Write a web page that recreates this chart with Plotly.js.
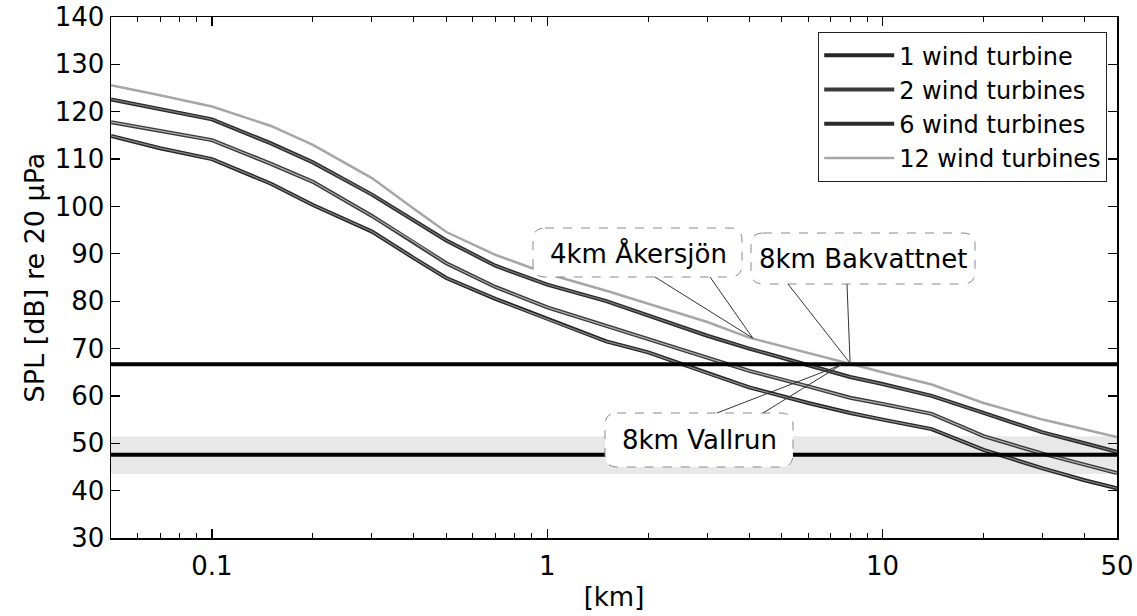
<!DOCTYPE html>
<html>
<head>
<meta charset="utf-8">
<script src="https://cdn.plot.ly/plotly-3.0.1.min.js"></script>
<style>html,body{margin:0;padding:0;background:#fff;}#chart{width:1137px;height:616px;}</style>
</head>
<body>
<div id="chart"></div>
<script>
// ---- data ----
const distanceKm = [0.05, 0.07, 0.1, 0.15, 0.2, 0.3, 0.4, 0.5, 0.7, 1, 1.5, 2, 3, 4, 6, 8, 10, 14, 20, 30, 40, 50];
const spl1  = [114.9, 112.3, 110.0, 104.8, 100.3, 94.7, 89.1, 84.9, 80.5, 76.2, 71.5, 69.2, 64.8, 61.8, 58.5, 56.4, 55.0, 53.0, 48.6, 44.7, 42.2, 40.5];
const spl2  = [117.8, 116.0, 114.0, 109.0, 105.2, 98.0, 92.5, 88.0, 83.0, 78.7, 74.8, 72.0, 68.2, 65.3, 62.0, 59.6, 58.3, 56.2, 51.5, 47.8, 45.5, 43.7];
const spl6  = [122.6, 120.6, 118.4, 113.3, 109.3, 102.5, 97.0, 92.8, 87.5, 83.5, 80.0, 77.0, 72.7, 70.0, 66.5, 64.0, 62.5, 60.0, 56.4, 52.3, 50.0, 48.2];
const spl12 = [125.6, 123.5, 121.1, 117.0, 113.0, 106.0, 99.5, 94.6, 89.8, 85.8, 82.2, 79.5, 75.6, 72.3, 69.0, 66.8, 65.0, 62.4, 58.5, 55.0, 53.0, 51.3];
const seriesNames = ['1 wind turbine', '2 wind turbines', '6 wind turbines', '12 wind turbines'];
const levelXs = [0.05, 50];
const upperLevel = [66.7, 66.7];
const lowerLevel = [47.6, 47.6];
const bandLow = [43.5, 43.5];
const bandHigh = [51.5, 51.5];
const xTickVals = [0.1, 1, 10, 50];
const xTickText = ['0.1', '1', '10', '50'];
const xMinorVals = [0.06,0.07,0.08,0.09,0.2,0.3,0.4,0.5,0.6,0.7,0.8,0.9,2,3,4,5,6,7,8,9,20,30,40];
const yTickVals = [30,40,50,60,70,80,90,100,110,120,130,140];
const callouts = [
  {text: '4km Åkersjön',  tipX: 4.1, tipY: 72.2},
  {text: '8km Bakvattnet', tipX: 8.0, tipY: 66.9},
  {text: '8km Vallrun',   tipX: 7.5, tipY: 66.5}
];

// ---- geometry of the plot area ----
const M = {l: 111, r: 20, t: 17, b: 78};
const W = 1137, H = 616;
const PW = W - M.l - M.r, PH = H - M.t - M.b;
const xr = [Math.log10(0.05), Math.log10(50)];
const yr = [30, 140];
const pxX = px => (px - M.l) / PW;          // pixel -> paper
const pxY = py => 1 - (py - M.t) / PH;
const dX = x => (Math.log10(x) - xr[0]) / (xr[1] - xr[0]); // data -> paper
const dY = y => (y - yr[0]) / (yr[1] - yr[0]);

function roundRect(x0, y0, x1, y1, r) {
  const P = (x, y) => pxX(x).toFixed(5) + ',' + pxY(y).toFixed(5);
  return 'M' + P(x0 + r, y0) + ' L' + P(x1 - r, y0) + ' Q' + P(x1, y0) + ' ' + P(x1, y0 + r) +
         ' L' + P(x1, y1 - r) + ' Q' + P(x1, y1) + ' ' + P(x1 - r, y1) +
         ' L' + P(x0 + r, y1) + ' Q' + P(x0, y1) + ' ' + P(x0, y1 - r) +
         ' L' + P(x0, y0 + r) + ' Q' + P(x0, y0) + ' ' + P(x0 + r, y0) + ' Z';
}
function tail(ax, ay, bx, by, c) {
  const P = (x, y) => pxX(x).toFixed(5) + ',' + pxY(y).toFixed(5);
  const T = dX(c.tipX).toFixed(5) + ',' + dY(c.tipY).toFixed(5);
  return 'M' + P(ax, ay) + ' L' + T + ' L' + P(bx, by);
}
const boxes = [
  {x0: 533, y0: 228, x1: 742, y1: 277, t1: 655, t2: 710, ty: 277, cx: 638, cy: 253},
  {x0: 751, y0: 233, x1: 975, y1: 284, t1: 788, t2: 847, ty: 284, cx: 863, cy: 259},
  {x0: 605, y0: 413, x1: 793, y1: 467, t1: 717, t2: 763, ty: 413, cx: 699, cy: 440}
];

const shapes = [];
const annotations = [];
callouts.forEach((c, i) => {
  const b = boxes[i];
  shapes.push({type: 'path', xref: 'paper', yref: 'paper', layer: 'above',
    path: roundRect(b.x0, b.y0, b.x1, b.y1, 12), fillcolor: 'white',
    line: {color: '#8a8a8a', width: 1, dash: 'dash'}});
  shapes.push({type: 'path', xref: 'paper', yref: 'paper', layer: 'above',
    path: tail(b.t1, b.ty, b.t2, b.ty, c), line: {color: '#333', width: 1}});
  annotations.push({xref: 'paper', yref: 'paper', x: pxX(b.cx), y: pxY(b.cy),
    text: c.text, showarrow: false, xanchor: 'center', yanchor: 'middle',
    font: {family: 'DejaVu Sans', size: 26, color: '#000'}});
});

const outer = ['#262626', '#3a3a3a', '#2a2a2a', '#a6a6a6'];
const inner = ['#8c8c8c', '#b0b0b0', '#7a7a7a', null];
const ys = [spl1, spl2, spl6, spl12];

const traces = [];
traces.push({x: levelXs, y: bandLow, mode: 'lines', line: {width: 0}, showlegend: false, hoverinfo: 'skip'});
traces.push({x: levelXs, y: bandHigh, mode: 'lines', line: {width: 0}, fill: 'tonexty',
  fillcolor: 'rgba(190,190,190,0.35)', showlegend: false, hoverinfo: 'skip'});
ys.forEach((y, i) => {
  traces.push({x: distanceKm, y: y, name: seriesNames[i], mode: 'lines',
    line: {color: outer[i], width: i === 3 ? 2.5 : 4}});
});
ys.forEach((y, i) => {
  if (inner[i]) traces.push({x: distanceKm, y: y, mode: 'lines', showlegend: false, hoverinfo: 'skip',
    line: {color: inner[i], width: 1.2}});
});
traces.push({x: levelXs, y: upperLevel, mode: 'lines', line: {color: '#000', width: 4}, showlegend: false});
traces.push({x: levelXs, y: lowerLevel, mode: 'lines', line: {color: '#000', width: 4}, showlegend: false});

const tickFont = {family: 'DejaVu Sans', size: 26, color: '#000'};
const layout = {
  width: W, height: H,
  margin: M,
  paper_bgcolor: '#fff', plot_bgcolor: '#fff',
  showlegend: true,
  xaxis: {type: 'log', range: xr, tickmode: 'array', tickvals: xTickVals, ticktext: xTickText,
    ticks: 'inside', ticklen: 9, tickwidth: 1.2, tickcolor: '#000',
    minor: {tickmode: 'array', tickvals: xMinorVals, ticks: 'inside', ticklen: 5, tickwidth: 1, tickcolor: '#000', showgrid: false},
    showline: true, linecolor: '#000', linewidth: 1.5, mirror: 'ticks', showgrid: false, zeroline: false,
    tickfont: tickFont, ticklabelstandoff: 4,
    title: {text: '[km]', font: {family: 'DejaVu Sans', size: 26, color: '#000'}, standoff: 8}},
  yaxis: {range: yr, tickmode: 'array', tickvals: yTickVals,
    ticks: 'inside', ticklen: 9, tickwidth: 1.2, tickcolor: '#000',
    showline: true, linecolor: '#000', linewidth: 1.5, mirror: 'ticks', showgrid: false, zeroline: false,
    tickfont: tickFont,
    title: {text: 'SPL [dB] re 20 µPa', font: {family: 'DejaVu Sans', size: 27, color: '#000'}, standoff: 2}},
  legend: {x: pxX(1107), xanchor: 'right', y: pxY(32), yanchor: 'top', traceorder: 'normal',
    bgcolor: '#fff', bordercolor: '#222', borderwidth: 1.2, itemwidth: 70,
    font: {family: 'DejaVu Sans', size: 24, color: '#000'}},
  shapes: shapes,
  annotations: annotations
};
Plotly.newPlot('chart', traces, layout, {displayModeBar: false, staticPlot: true});
</script>
</body>
</html>
